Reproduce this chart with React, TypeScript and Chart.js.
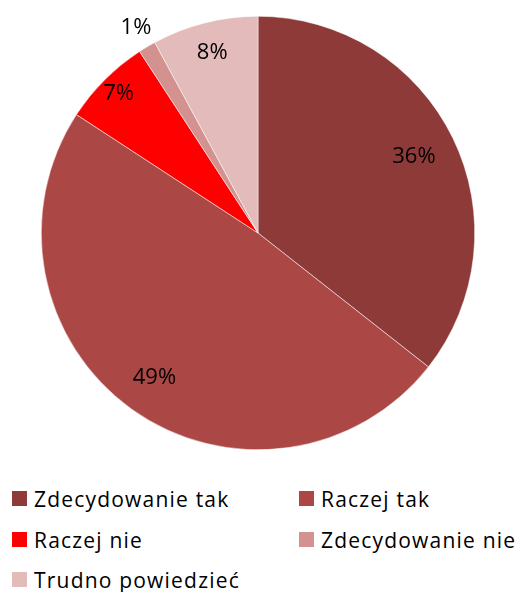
import React, { useEffect, useRef } from "react";
import { Chart, registerables } from "chart.js";

Chart.register(...registerables);

const categories = ["Zdecydowanie tak", "Raczej tak", "Raczej nie", "Zdecydowanie nie", "Trudno powiedzieć"];
const values = [35.6, 48.6, 6.6, 1.3, 7.9];
const colors = ["#8E3A39", "#AB4845", "#FF0000", "#D3928F", "#E2BBBA"];
const labelRadii = [0.8, 0.82, 0.91, 1.1, 0.86];

const FONT = "'Open Sans', 'Liberation Sans', sans-serif";

const pctPlugin = {
  id: "pctLabels",
  afterDatasetsDraw(chart: any) {
    const ctx = chart.ctx;
    const meta = chart.getDatasetMeta(0);
    const data = chart.data.datasets[0].data as number[];
    const total = data.reduce((a: number, b: number) => a + b, 0);
    ctx.save();
    ctx.font = `22px ${FONT}`;
    ctx.fillStyle = "#000";
    ctx.textAlign = "center";
    ctx.textBaseline = "middle";
    meta.data.forEach((arc: any, i: number) => {
      const mid = (arc.startAngle + arc.endAngle) / 2;
      const r = arc.outerRadius * labelRadii[i];
      const x = arc.x + Math.cos(mid) * r;
      const y = arc.y + Math.sin(mid) * r;
      ctx.fillText(Math.round((data[i] / total) * 100) + "%", x, y);
    });
    ctx.restore();
  },
};

export default function App() {
  const ref = useRef<HTMLCanvasElement>(null);
  useEffect(() => {
    document.body.style.margin = "0";
    const chart = new Chart(ref.current!, {
      type: "pie",
      data: {
        labels: categories,
        datasets: [
          {
            data: values,
            backgroundColor: colors,
            borderColor: "#ffffff",
            borderWidth: 0.5,
          },
        ],
      },
      options: {
        animation: false,
        responsive: false,
        layout: { padding: { top: 16, bottom: 16, left: 41, right: 43 } },
        plugins: { legend: { display: false }, tooltip: { enabled: false } },
      },
      plugins: [pctPlugin],
    });
    return () => chart.destroy();
  }, []);

  const pos = [
    { x: 12, y: 491 },
    { x: 299, y: 491 },
    { x: 12, y: 532 },
    { x: 299, y: 532 },
    { x: 12, y: 572 },
  ];

  return (
    <div style={{ position: "relative", width: 518, height: 592, background: "#fff" }}>
      <canvas ref={ref} width={518} height={466} style={{ position: "absolute", left: 0, top: 0 }} />
      {categories.map((c, i) => (
        <div
          key={c}
          style={{
            position: "absolute",
            left: pos[i].x,
            top: pos[i].y - 5,
            height: 25,
            display: "flex",
            alignItems: "center",
            fontFamily: FONT,
            fontSize: 21,
            letterSpacing: 1.2,
            color: "#000",
            whiteSpace: "nowrap",
          }}
        >
          <span style={{ display: "inline-block", width: 15, height: 15, background: colors[i], marginRight: 7 }} />
          <span>{c}</span>
        </div>
      ))}
    </div>
  );
}
